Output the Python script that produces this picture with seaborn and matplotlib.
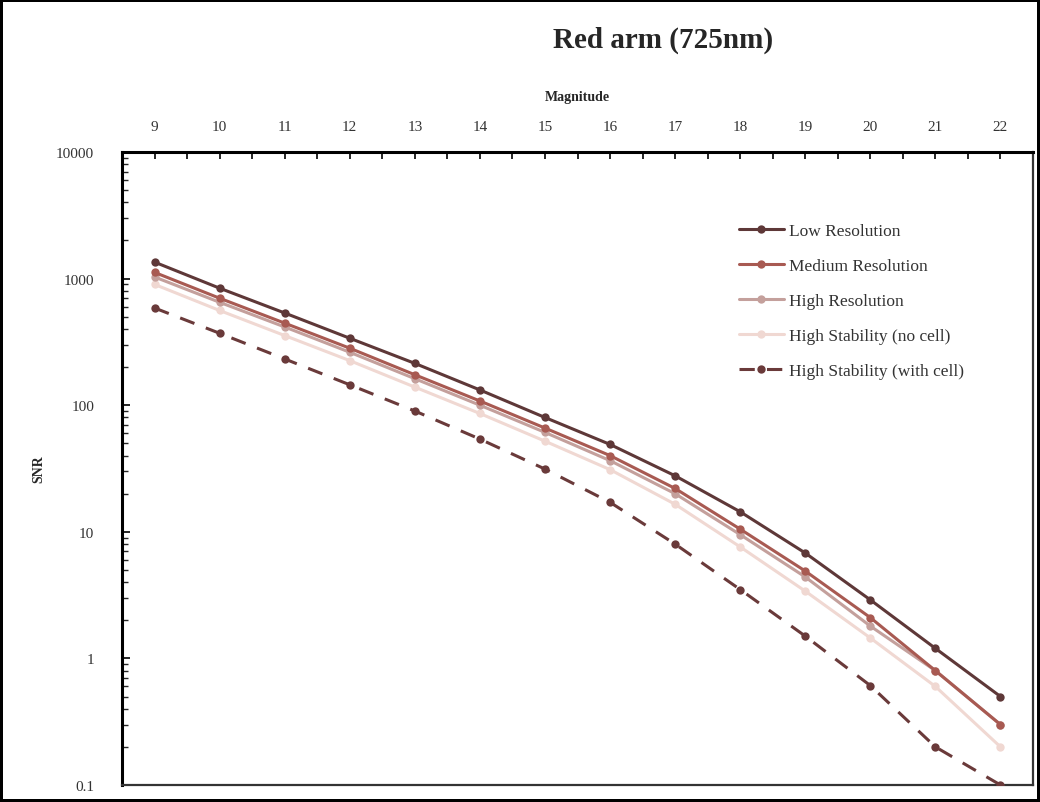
import numpy as np
import pandas as pd
import matplotlib
matplotlib.use("Agg")
import matplotlib.pyplot as plt
import seaborn as sns
from matplotlib.ticker import FixedLocator, LogLocator, NullFormatter, FuncFormatter

magnitude = [9, 10, 11, 12, 13, 14, 15, 16, 17, 18, 19, 20, 21, 22]
low_res = [1350, 840, 535, 338, 214, 132, 80, 49, 27.7, 14.4, 6.8, 2.9, 1.2, 0.5]
medium_res = [1120, 700, 445, 282, 174, 108, 66, 40, 22, 10.5, 4.9, 2.1, 0.8, 0.3]
high_res = [1030, 650, 415, 262, 162, 100, 61, 36.5, 20, 9.5, 4.4, 1.8, 0.8, 0.3]
hs_no_cell = [900, 560, 355, 225, 139, 86, 52, 31, 16.5, 7.6, 3.4, 1.45, 0.6, 0.2]
hs_with_cell = [586, 370, 232, 145, 90, 54, 31.3, 17.1, 8.0, 3.5, 1.5, 0.61, 0.2, 0.1]

series_names = ["Low Resolution", "Medium Resolution", "High Resolution",
                "High Stability (no cell)", "High Stability (with cell)"]
series_values = [low_res, medium_res, high_res, hs_no_cell, hs_with_cell]
colors = ["#5e3838", "#a85a52", "#c4a09c", "#f0d8d2", "#6a3a3a"]
lstyles = ["-", "-", "-", "-", (0, (5, 4))]
lwidths = [2.2, 2.2, 2.2, 2.2, 2.2]
zorders = [5, 4, 3, 2, 6]

sns.set_theme(style="white")
plt.rcParams['font.family'] = ['Liberation Serif', 'DejaVu Serif']

fig = plt.figure(figsize=(10.40, 8.03), dpi=100)
fig.patch.set_edgecolor("black")
fig.patch.set_linewidth(3)
ax = fig.add_axes([122/1040, 1 - 786/803, (1033 - 122)/1040, (786 - 153)/803])

draw_order = [3, 2, 1, 0, 4]
for i in draw_order:
    df = pd.DataFrame({"Magnitude": magnitude, "SNR": series_values[i]})
    sns.lineplot(data=df, x="Magnitude", y="SNR", ax=ax, color=colors[i],
                 linestyle=lstyles[i], linewidth=lwidths[i], marker="o",
                 markersize=6, markeredgewidth=0, label=series_names[i],
                 zorder=zorders[i])

ax.set_yscale("log")
ax.set_ylim(0.1, 10000)
ax.set_xlim(8.5, 22.5)

ax.xaxis.tick_top()
ax.xaxis.set_label_position("top")
ax.xaxis.set_major_locator(FixedLocator(magnitude))
ax.xaxis.set_minor_locator(FixedLocator([m + 0.5 for m in magnitude[:-1]]))
ax.tick_params(axis="x", which="both", direction="in", length=5, width=1.2,
               top=True, bottom=False, labeltop=True, labelbottom=False,
               labelsize=11, pad=14, colors="black")
ax.tick_params(axis="x", which="major", labelcolor="#333333")
ax.set_xlabel("Magnitude", fontsize=10, fontweight="bold", labelpad=14)

ax.yaxis.set_major_locator(LogLocator(base=10, numticks=10))
ax.yaxis.set_minor_locator(LogLocator(base=10, subs=np.arange(2, 10), numticks=20))
ax.yaxis.set_minor_formatter(NullFormatter())
ax.yaxis.set_major_formatter(FuncFormatter(lambda v, p: f"{v:g}"))
ax.tick_params(axis="y", which="major", direction="in", length=6, width=1.2,
               left=True, labelsize=11, pad=20, colors="black", labelcolor="#333333")
ax.tick_params(axis="y", which="minor", direction="in", length=4, width=1.0, left=True)
ax.set_ylabel("SNR", fontsize=10, fontweight="bold", labelpad=8)

for s in ax.spines.values():
    s.set_color("#333333")
    s.set_linewidth(1.6)
ax.spines["left"].set_color("black")
ax.spines["left"].set_linewidth(2.2)
ax.spines["top"].set_color("black")
ax.spines["top"].set_linewidth(2.2)

handles, labels = ax.get_legend_handles_labels()
order = [labels.index(n) for n in series_names]
ax.legend([handles[k] for k in order], [labels[k] for k in order],
          loc="upper left", bbox_to_anchor=(0.66, 0.912), frameon=False,
          fontsize=12.5, handlelength=2.6, handletextpad=0.3, labelspacing=1.08,
          labelcolor="#333333")

fig.text(663/1040, 1 - 40/803, "Red arm (725nm)", ha="center", va="center",
         fontsize=21, fontweight="bold")

fig.savefig("out.png", dpi=100, edgecolor=fig.get_edgecolor())
